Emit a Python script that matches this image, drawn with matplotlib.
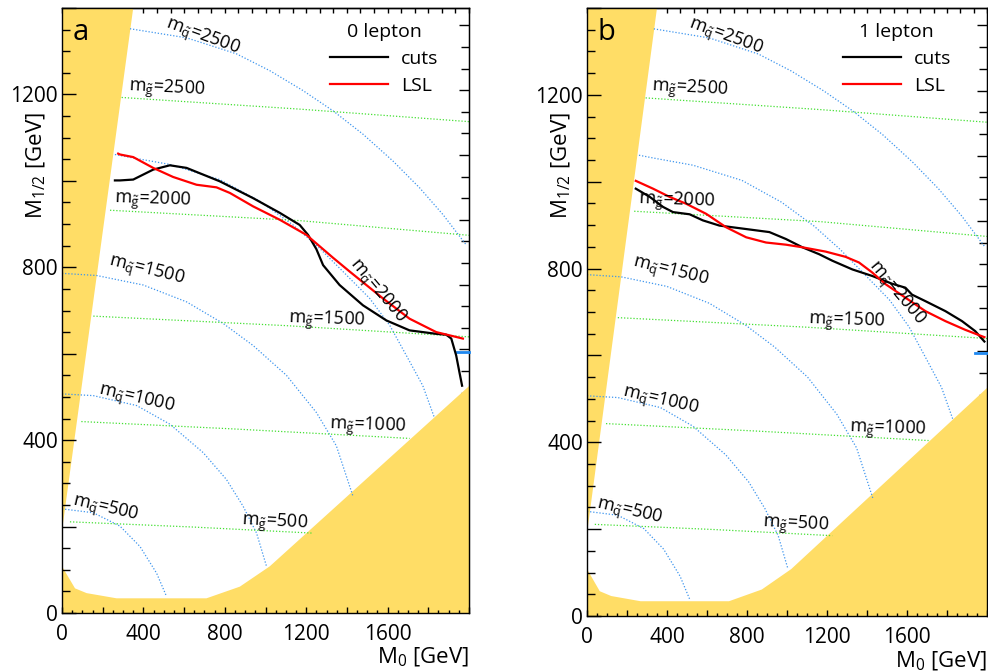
import numpy as np
import matplotlib
matplotlib.use("Agg")
import matplotlib.pyplot as plt
from matplotlib.ticker import FixedLocator, FuncFormatter

plt.rcParams['font.family'] = ['Open Sans', 'DejaVu Sans']
plt.rcParams['mathtext.fontset'] = 'custom'
plt.rcParams['mathtext.rm'] = 'Open Sans'
plt.rcParams['mathtext.it'] = 'Open Sans:italic'
plt.rcParams['mathtext.bf'] = 'Open Sans:bold'

# excluded regions (M0, M1/2 in GeV)
wedge_m0 = [0, 350, 0]
wedge_m12 = [190, 1400, 1400]
floor_m0 = [0, 0, 64, 121, 268, 710, 874, 1021, 2000, 2000]
floor_m12 = [0, 108, 57, 46, 34, 34, 61, 108, 525, 0]

# squark mass contours
sq2500_m0 = [334, 612, 857, 1021, 1184, 1332, 1479, 1626, 1757, 1872, 1986]
sq2500_m12 = [1352, 1331, 1294, 1255, 1209, 1162, 1108, 1046, 984, 922, 852]
sq2000_m0 = [260, 350, 530, 775, 972, 1135, 1266, 1381, 1512, 1610, 1692, 1773, 1830]
sq2000_m12 = [1061, 1053, 1038, 1003, 953, 898, 844, 790, 728, 666, 596, 526, 452]
sq1500_m0 = [0, 170, 399, 612, 792, 939, 1103, 1250, 1348, 1430]
sq1500_m12 = [786, 781, 759, 720, 670, 619, 550, 464, 387, 270]
sq1000_m0 = [0, 154, 367, 530, 694, 808, 890, 956, 1005]
sq1000_m12 = [507, 503, 480, 437, 371, 309, 247, 185, 108]
sq500_m0 = [0, 154, 285, 383, 465, 514]
sq500_m12 = [241, 232, 201, 154, 92, 38]

# gluino mass contours
gl2500_m0 = [293, 1168, 2000]
gl2500_m12 = [1193, 1166, 1137]
gl2000_m0 = [236, 1168, 2000]
gl2000_m12 = [932, 908, 874]
gl1500_m0 = [154, 1100, 2000]
gl1500_m12 = [687, 665, 639]
gl1000_m0 = [95, 841, 1708]
gl1000_m12 = [443, 426, 404]
gl500_m0 = [39, 640, 1226]
gl500_m12 = [211, 199, 185]

# reach curves, 0 lepton
cuts0_m0 = [260, 285, 350, 448, 530, 612, 775, 939, 1070, 1168, 1209, 1250, 1283, 1364,
            1479, 1594, 1708, 1839, 1888, 1913, 1937, 1953, 1966]
cuts0_m12 = [1001, 1001, 1003, 1026, 1036, 1030, 999, 960, 926, 898, 875, 842, 805, 759,
             712, 677, 654, 646, 644, 635, 596, 557, 526]
lsl0_m0 = [276, 285, 350, 448, 546, 661, 759, 825, 939, 1070, 1201, 1332, 1414, 1577,
           1708, 1839, 1970]
lsl0_m12 = [1063, 1061, 1055, 1030, 1009, 991, 985, 972, 941, 910, 875, 822, 790, 728,
            681, 650, 635]

# reach curves, 1 lepton
cuts1_m0 = [244, 314, 380, 430, 513, 579, 662, 796, 912, 995, 1077, 1161, 1227, 1327,
            1426, 1526, 1592, 1625, 1692, 1792, 1875, 1941, 1987]
cuts1_m12 = [984, 965, 942, 930, 925, 911, 899, 891, 884, 868, 849, 833, 818, 798,
             783, 765, 756, 740, 725, 702, 679, 656, 632]
lsl1_m0 = [244, 330, 413, 497, 596, 696, 796, 895, 995, 1077, 1194, 1293, 1360, 1426,
           1493, 1592, 1692, 1792, 1891, 1987]
lsl1_m12 = [1002, 984, 965, 949, 926, 895, 872, 860, 855, 849, 839, 827, 814, 791,
            764, 733, 702, 679, 659, 642]

edge_m0 = [1940, 2000]
edge_m12 = [605, 605]

squarks = [(sq2500_m0, sq2500_m12), (sq2000_m0, sq2000_m12), (sq1500_m0, sq1500_m12),
           (sq1000_m0, sq1000_m12), (sq500_m0, sq500_m12)]
gluinos = [(gl2500_m0, gl2500_m12), (gl2000_m0, gl2000_m12), (gl1500_m0, gl1500_m12),
           (gl1000_m0, gl1000_m12), (gl500_m0, gl500_m12)]

# contour labels: particle, mass, position, angle
contour_labels = [
    ('q', 2500, 692, 1333, -20),
    ('g', 2500, 515, 1212, -3),
    ('g', 2000, 447, 954, -2),
    ('q', 1500, 417, 791, -14),
    ('q', 2000, 1546, 744, -50),
    ('g', 1500, 1301, 677, -2),
    ('q', 1000, 368, 495, -13),
    ('g', 1000, 1502, 430, -2),
    ('q', 500, 211, 240, -13),
    ('g', 500, 1045, 209, -3),
]

YELLOW = '#FFDD66'
BLUE = '#3D95EE'
GREEN = '#44E033'


def label_fmt(limit):
    return FuncFormatter(lambda v, p: '%d' % v if (round(v) % 400 == 0 and v < limit) else '')


def draw_panel(ax, letter, title, legend_x, cuts_m0, cuts_m12, lsl_m0, lsl_m12):
    ax.fill(wedge_m0, wedge_m12, color=YELLOW, lw=0, zorder=1)
    ax.fill(floor_m0, floor_m12, color=YELLOW, lw=0, zorder=1)

    for m0, m12 in squarks:
        ax.plot(m0, m12, color=BLUE, lw=0.9, ls=(0, (1, 1.5)), zorder=2)
    for m0, m12 in gluinos:
        ax.plot(m0, m12, color=GREEN, lw=0.9, ls=(0, (1, 1.5)), zorder=2)

    for part, mass, x, y, rot in contour_labels:
        txt = r'm$_{\tilde{\mathrm{%s}}}$=%d' % (part, mass)
        ax.text(x, y, txt, fontsize=13, rotation=rot, rotation_mode='anchor',
                ha='center', va='center', zorder=4)

    ax.plot(edge_m0, edge_m12, color='#1E88F0', lw=2, zorder=3, clip_on=False)
    l1, = ax.plot(cuts_m0, cuts_m12, color='black', lw=1.6, zorder=3)
    l2, = ax.plot(lsl_m0, lsl_m12, color='red', lw=1.6, zorder=3)

    leg = ax.legend([l1, l2], ['cuts', 'LSL'], title=title, loc='upper right',
                    bbox_to_anchor=(legend_x, 0.975), frameon=False, fontsize=14,
                    title_fontsize=14, handlelength=3.0, handletextpad=0.65,
                    labelspacing=0.45, borderpad=0, borderaxespad=0)
    leg.set_zorder(5)

    ax.text(0.027, 0.947, letter, transform=ax.transAxes, fontsize=21, zorder=5)

    ax.set_xlim(0, 2000)
    ax.set_ylim(0, 1400)

    ax.xaxis.set_major_locator(FixedLocator(np.arange(0, 2001, 200)))
    ax.xaxis.set_minor_locator(FixedLocator(np.arange(0, 2001, 50)))
    ax.yaxis.set_major_locator(FixedLocator(np.arange(0, 1401, 200)))
    ax.yaxis.set_minor_locator(FixedLocator(np.arange(0, 1401, 50)))
    ax.xaxis.set_major_formatter(label_fmt(2000))
    ax.yaxis.set_major_formatter(label_fmt(1400))

    ax.tick_params(axis='y', which='major', direction='in', length=10, width=1,
                   labelsize=15, pad=3)
    ax.tick_params(axis='y', which='minor', direction='in', length=6, width=1)
    ax.tick_params(axis='x', which='major', direction='in', length=4.5, width=1,
                   labelsize=15, pad=8)
    ax.tick_params(axis='x', which='minor', direction='in', length=2.5, width=1)

    top = ax.secondary_xaxis('top')
    top.xaxis.set_major_locator(FixedLocator(np.linspace(0, 2000, 31)))
    top.tick_params(direction='in', length=3.5, width=1, labeltop=False)
    top.spines['top'].set_linewidth(1)

    right = ax.secondary_yaxis('right')
    right.yaxis.set_major_locator(FixedLocator(np.arange(10, 1400, 150)))
    right.yaxis.set_minor_locator(FixedLocator(np.arange(10, 1400, 50)))
    right.tick_params(which='major', direction='in', length=7, width=1, labelright=False)
    right.tick_params(which='minor', direction='in', length=6, width=1)

    for s in ax.spines.values():
        s.set_linewidth(1)

    ax.set_xlabel(r'M$_{0}$ [GeV]', fontsize=16, loc='right')
    ax.xaxis.set_label_coords(1.0, -0.055)
    ax.set_ylabel(r'M$_{1/2}$ [GeV]', fontsize=16, loc='top')
    ax.yaxis.set_label_coords(-0.034, 0.828)


fig = plt.figure(figsize=(9.88, 6.71), dpi=100)
ax_a = fig.add_axes([62 / 988, 58 / 671, 407 / 988, 605 / 671])
ax_b = fig.add_axes([587 / 988, 55 / 671, 400 / 988, 608 / 671])

draw_panel(ax_a, 'a', '0 lepton', 0.925, cuts0_m0, cuts0_m12, lsl0_m0, lsl0_m12)
draw_panel(ax_b, 'b', '1 lepton', 0.91, cuts1_m0, cuts1_m12, lsl1_m0, lsl1_m12)

fig.savefig('out.png', dpi=100)
